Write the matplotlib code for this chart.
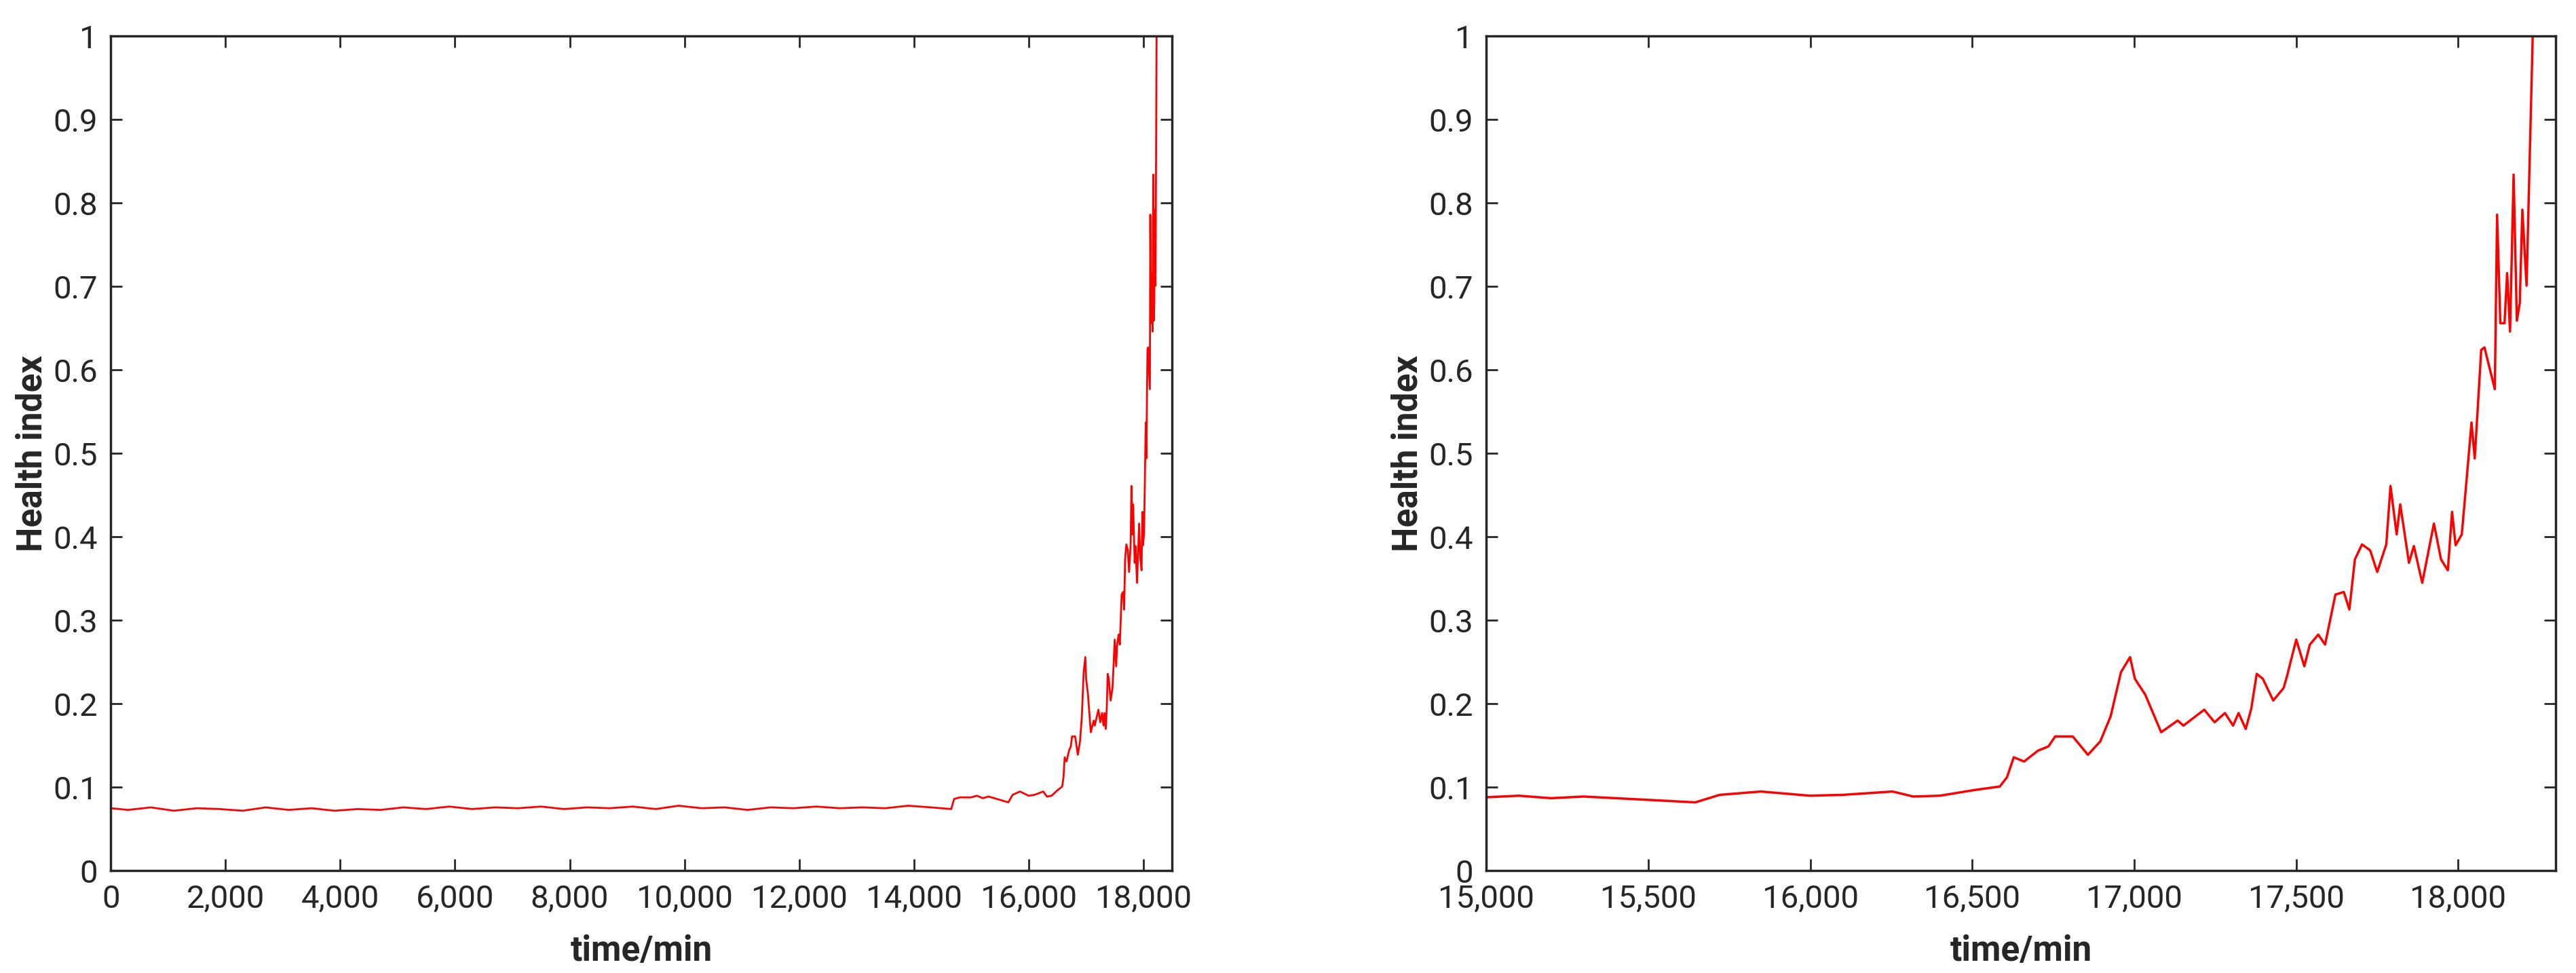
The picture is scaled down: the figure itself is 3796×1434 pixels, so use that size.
import matplotlib
matplotlib.use('Agg')
import matplotlib.pyplot as plt
from matplotlib.ticker import FuncFormatter

# early, mostly flat part of the series (left panel only)
t_early = [0, 300, 700, 1100, 1500, 1900, 2300, 2700, 3100, 3500, 3900, 4300, 4700, 5100,
           5500, 5900, 6300, 6700, 7100, 7500, 7900, 8300, 8700, 9100, 9500, 9900, 10300,
           10700, 11100, 11500, 11900, 12300, 12700, 13100, 13500, 13900, 14300, 14650,
           14700, 14800]
h_early = [0.075, 0.073, 0.076, 0.072, 0.075, 0.074, 0.072, 0.076, 0.073, 0.075, 0.072,
           0.074, 0.073, 0.076, 0.074, 0.077, 0.074, 0.076, 0.075, 0.077, 0.074, 0.076,
           0.075, 0.077, 0.074, 0.078, 0.075, 0.076, 0.073, 0.076, 0.075, 0.077, 0.075,
           0.076, 0.075, 0.078, 0.076, 0.074, 0.086, 0.088]

# last part of the series
t_late = [14995, 15100, 15200, 15300, 15400, 15549, 15645, 15720, 15848, 15998, 16100,
          16254, 16318, 16400, 16510, 16585, 16607, 16628, 16660, 16703, 16735, 16756,
          16810, 16857, 16895, 16927, 16959, 16987, 17002, 17034, 17083, 17134, 17152,
          17216, 17248, 17280, 17305, 17322, 17344, 17361, 17378, 17397, 17429, 17461,
          17472, 17500, 17525, 17542, 17568, 17589, 17621, 17647, 17664, 17681, 17703,
          17728, 17750, 17778, 17791, 17810, 17821, 17848, 17863, 17889, 17925, 17947,
          17968, 17981, 17992, 18011, 18028, 18041, 18051, 18071, 18081, 18113, 18120,
          18130, 18143, 18151, 18160, 18171, 18181, 18190, 18198, 18211, 18230]
h_late = [0.088, 0.090, 0.087, 0.089, 0.087, 0.084, 0.082, 0.091, 0.095, 0.090, 0.091,
          0.095, 0.089, 0.090, 0.097, 0.101, 0.112, 0.136, 0.131, 0.144, 0.149, 0.161,
          0.161, 0.139, 0.155, 0.185, 0.238, 0.256, 0.230, 0.211, 0.166, 0.180, 0.174,
          0.193, 0.178, 0.189, 0.174, 0.189, 0.170, 0.194, 0.236, 0.230, 0.204, 0.219,
          0.234, 0.277, 0.245, 0.271, 0.283, 0.271, 0.331, 0.334, 0.313, 0.373, 0.391,
          0.384, 0.358, 0.391, 0.461, 0.403, 0.439, 0.369, 0.389, 0.345, 0.416, 0.373,
          0.360, 0.430, 0.390, 0.403, 0.478, 0.537, 0.494, 0.624, 0.627, 0.577, 0.786,
          0.656, 0.656, 0.716, 0.646, 0.834, 0.659, 0.680, 0.792, 0.701, 1.0]

t_all = t_early + t_late
h_all = h_early + h_late

plt.rcParams['font.family'] = ['Roboto', 'DejaVu Sans']
fig = plt.figure(figsize=(37.96, 14.34), dpi=100)
ax1 = fig.add_axes([0.043, 0.105, 0.412, 0.858])
ax2 = fig.add_axes([0.577, 0.105, 0.415, 0.858])

comma = FuncFormatter(lambda v, p: f'{int(v):,}')
yfmt = FuncFormatter(lambda v, p: f'{v:g}')

ax1.plot(t_all, h_all, color='red', linewidth=2)
ax1.set_xlim(0, 18500)
ax1.set_xticks(range(0, 18001, 2000))

ax2.plot(t_late, h_late, color='red', linewidth=2.5)
ax2.set_xlim(15000, 18300)
ax2.set_xticks(range(15000, 18001, 500))

for ax in (ax1, ax2):
    ax.set_ylim(0, 1)
    ax.set_yticks([i / 10 for i in range(11)])
    ax.xaxis.set_major_formatter(comma)
    ax.yaxis.set_major_formatter(yfmt)
    ax.tick_params(direction='in', length=12, width=2, labelsize=34, pad=14,
                   top=True, right=True, colors='#262626')
    for s in ax.spines.values():
        s.set_linewidth(2.5)
        s.set_color('#262626')
    ax.set_xlabel('time/min', fontsize=37, fontweight='bold', color='#262626', labelpad=22)
    ax.set_ylabel('Health index', fontsize=37, fontweight='bold', color='#262626')

fig.savefig('out.png')
